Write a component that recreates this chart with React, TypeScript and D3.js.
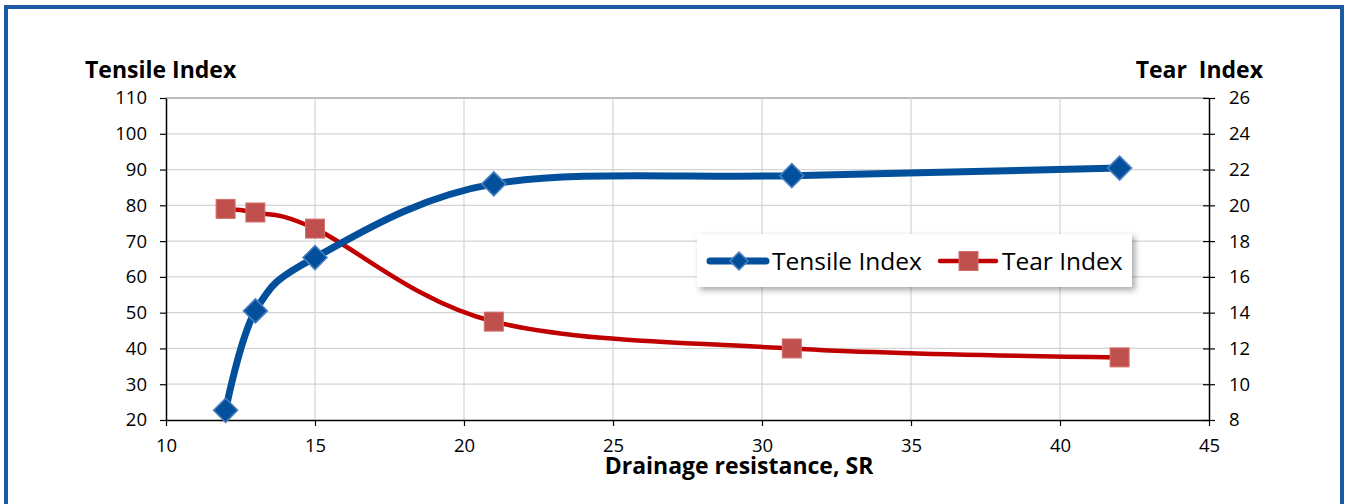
import React, { useEffect, useRef } from "react";
import * as d3 from "d3";

// drainage resistance (x) and the two measured series
const srValues = [12, 13, 15, 21, 31, 42];
const tensileIndex = [22.7, 50.5, 65.4, 86, 88.3, 90.4];
const tearIndex = [19.8, 19.6, 18.7, 13.5, 12.0, 11.5];

const xTicks = [10, 15, 20, 25, 30, 35, 40, 45];
const leftTicks = [20, 30, 40, 50, 60, 70, 80, 90, 100, 110];
const rightTicks = [8, 10, 12, 14, 16, 18, 20, 22, 24, 26];

const seriesNames = ["Tensile Index", "Tear Index"];

const FONT = "'Open Sans', 'Noto Sans', sans-serif";

const App = () => {
	const svgRef = useRef<SVGSVGElement>(null);

	const width = 1347, height = 504;
	const margin = { top: 98, right: 138, bottom: 84, left: 166 };
	const plotW = width - margin.left - margin.right;
	const plotH = height - margin.top - margin.bottom;

	useEffect(() => {
		const svg = d3.select(svgRef.current);
		svg.selectAll("*").remove();

		const defs = svg.append("defs");
		const f = defs.append("filter").attr("id", "legShadow")
			.attr("x", "-10%").attr("y", "-30%").attr("width", "120%").attr("height", "170%");
		f.append("feDropShadow").attr("dx", 3).attr("dy", 3).attr("stdDeviation", 3)
			.attr("flood-color", "#000").attr("flood-opacity", 0.35);

		// blue outer frame
		svg.append("rect")
			.attr("x", 6).attr("y", 7).attr("width", 1336).attr("height", 540)
			.attr("fill", "white").attr("stroke", "#1c5aa5").attr("stroke-width", 4);

		const x = d3.scaleLinear().domain([10, 45]).range([0, plotW]);
		const yL = d3.scaleLinear().domain([20, 110]).range([plotH, 0]);
		const yR = d3.scaleLinear().domain([8, 26]).range([plotH, 0]);

		const g = svg.append("g").attr("transform", `translate(${margin.left}, ${margin.top})`);

		// gridlines
		g.append("g").selectAll("line").data(leftTicks.slice(1))
			.join("line")
			.attr("x1", 0).attr("x2", plotW)
			.attr("y1", d => yL(d)).attr("y2", d => yL(d))
			.style("stroke", d => d === 110 ? "#bcbcbc" : "#d4d4d4")
			.style("stroke-width", d => d === 110 ? 2 : 1.2);
		g.append("g").selectAll("line").data(xTicks.slice(1, -1))
			.join("line")
			.attr("x1", d => x(d)).attr("x2", d => x(d))
			.attr("y1", 0).attr("y2", plotH)
			.style("stroke", "#d4d4d4").style("stroke-width", 1.2);

		// axes
		const axL = g.append("g")
			.call(d3.axisLeft(yL).tickValues(leftTicks).tickSize(6).tickSizeOuter(0).tickPadding(13));
		const axR = g.append("g").attr("transform", `translate(${plotW}, 0)`)
			.call(d3.axisRight(yR).tickValues(rightTicks).tickSize(6).tickSizeOuter(0).tickPadding(14));
		axR.selectAll(".tick line").attr("x1", -6);
		const axB = g.append("g").attr("transform", `translate(0, ${plotH})`)
			.call(d3.axisBottom(x).tickValues(xTicks).tickSize(6).tickSizeOuter(0).tickPadding(13));
		[axL, axR, axB].forEach(a => {
			a.selectAll("path").style("stroke", "#000").style("stroke-width", 1.5);
			a.selectAll("line").style("stroke", "#000").style("stroke-width", 1.2);
			a.selectAll("text").style("font-family", FONT).style("font-size", "18.5px").style("fill", "#000");
		});

		// smoothed lines
		const curve = d3.curveCardinal.tension(0);
		const tensilePts = srValues.map((s, i) => [x(s), yL(tensileIndex[i])] as [number, number]);
		const tearPts = srValues.map((s, i) => [x(s), yR(tearIndex[i])] as [number, number]);
		const line = d3.line().curve(curve);

		g.append("path").attr("d", line(tearPts))
			.style("fill", "none").style("stroke", "#c00000").style("stroke-width", 4.5);
		g.append("path").attr("d", line(tensilePts))
			.style("fill", "none").style("stroke", "#02509b").style("stroke-width", 7);

		const diamond = (cx: number, cy: number, r: number) =>
			`M${cx},${cy - r}L${cx + r},${cy}L${cx},${cy + r}L${cx - r},${cy}Z`;

		g.append("g").selectAll("rect").data(tearPts)
			.join("rect")
			.attr("x", d => d[0] - 9.5).attr("y", d => d[1] - 9.5)
			.attr("width", 19).attr("height", 19)
			.style("fill", "#c0504d").style("stroke", "#d2706c").style("stroke-width", 1);
		g.append("g").selectAll("path").data(tensilePts)
			.join("path")
			.attr("d", d => diamond(d[0], d[1], 12))
			.style("fill", "#02509b").style("stroke", "#4a80c0").style("stroke-width", 1.5);

		// axis titles
		svg.append("text").attr("x", 85).attr("y", 78).text("Tensile Index")
			.style("font-family", FONT).style("font-weight", 700).style("font-size", "23px");
		svg.append("text").attr("x", 1263).attr("y", 78).attr("text-anchor", "end").text("Tear  Index")
			.style("white-space", "pre")
			.style("font-family", FONT).style("font-weight", 700).style("font-size", "23px");
		// x title sits on a white box that clips the bottom of the 25 / 30 labels, like the original
		svg.append("rect").attr("x", 603).attr("y", 454).attr("width", 272).attr("height", 28).attr("fill", "white");
		svg.append("text").attr("x", 739).attr("y", 474).attr("text-anchor", "middle").text("Drainage resistance, SR")
			.style("font-family", FONT).style("font-weight", 700).style("font-size", "23px");

		// legend
		const leg = svg.append("g").attr("transform", "translate(697, 234)");
		leg.append("rect").attr("width", 435).attr("height", 53)
			.attr("fill", "white").attr("filter", "url(#legShadow)");
		const items = [
			{ name: seriesNames[0], x0: 13, color: "#02509b", w: 7, marker: "diamond" },
			{ name: seriesNames[1], x0: 243, color: "#c00000", w: 4.5, marker: "square" },
		];
		items.forEach(it => {
			const cy = 27;
			leg.append("line").attr("x1", it.x0).attr("x2", it.x0 + 56).attr("y1", cy).attr("y2", cy)
				.style("stroke", it.color).style("stroke-width", it.w).style("stroke-linecap", "round");
			if (it.marker === "diamond") {
				leg.append("path").attr("d", diamond(it.x0 + 29, cy, 9))
					.style("fill", "#02509b").style("stroke", "#4a80c0").style("stroke-width", 1.5);
			} else {
				leg.append("rect").attr("x", it.x0 + 19).attr("y", cy - 9.5).attr("width", 19).attr("height", 19)
					.style("fill", "#c0504d").style("stroke", "#d2706c");
			}
			leg.append("text").attr("x", it.x0 + 62).attr("y", cy + 9).text(it.name)
				.style("font-family", FONT).style("font-size", "24.5px").style("fill", "#000");
		});
	}, []);

	return (
		<svg ref={svgRef} width={width} height={height}
			style={{ position: "absolute", left: 0, top: 0, background: "white" }} />
	);
};

export default App;
